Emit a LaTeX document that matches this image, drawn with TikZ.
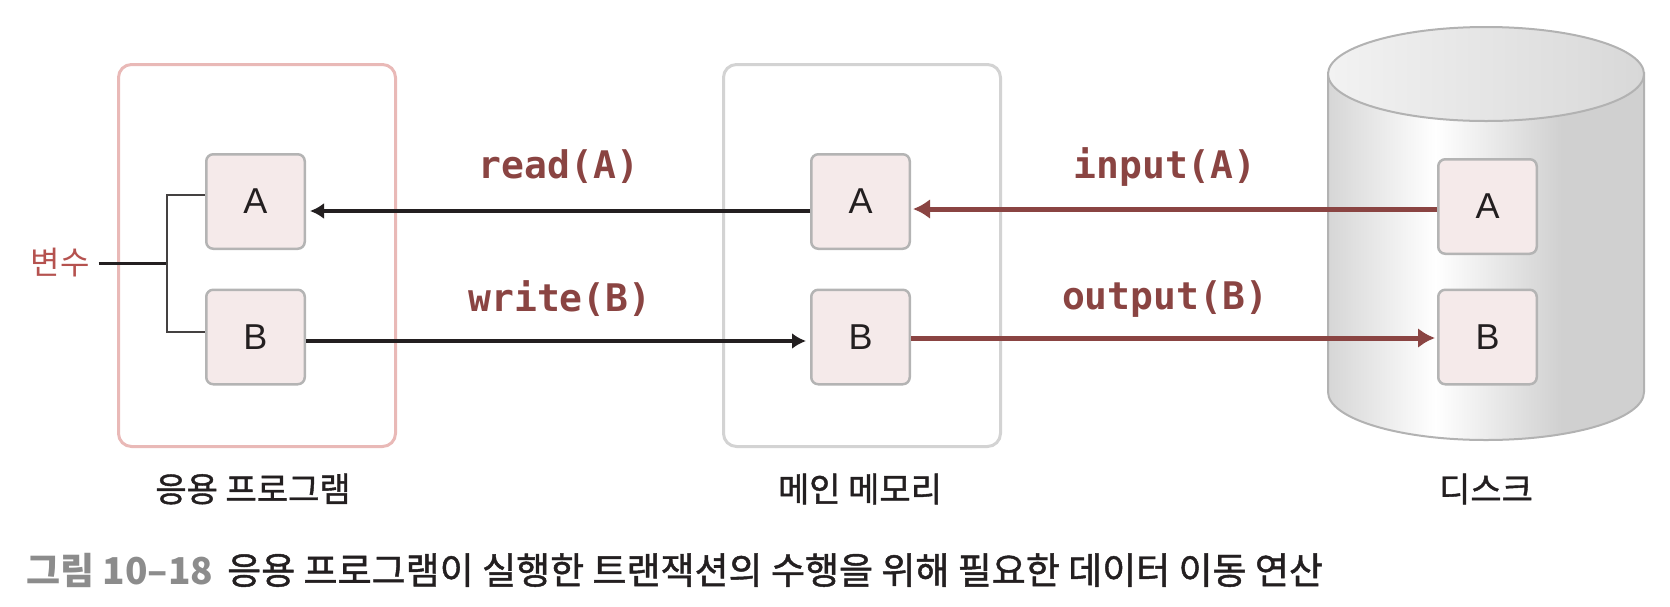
\documentclass[tikz,border=0pt]{standalone}
\usepackage{fontspec}
\setmainfont{Liberation Sans}
\newfontfamily\kr{Noto Sans CJK KR}
\newfontfamily\krm{Noto Sans CJK KR}[FakeBold=1.2]
\newfontfamily\mono{DejaVu Sans Mono}
\usetikzlibrary{arrows.meta}
\definecolor{boxfill}{HTML}{F5EAEA}
\definecolor{cellline}{HTML}{B4B4B4}
\definecolor{pinkline}{HTML}{E9B9B7}
\definecolor{greyline}{HTML}{D3D3D3}
\definecolor{ink}{HTML}{231F20}
\definecolor{rust}{HTML}{8A4442}
\definecolor{varred}{HTML}{B5524F}
\definecolor{capgrey}{HTML}{8C8C8C}
\definecolor{cylL}{HTML}{D6D6D6}
\definecolor{cylR}{HTML}{D0D0D0}
\definecolor{topL}{HTML}{F2F2F2}
\definecolor{topR}{HTML}{D8D8D8}
\definecolor{cylline}{HTML}{B2B2B2}
\pgfdeclarehorizontalshading{cylbody}{100bp}{color(0bp)=(cylL); color(25bp)=(cylL); color(42bp)=(white); color(62bp)=(cylR); color(100bp)=(cylR)}
\pgfdeclarehorizontalshading{cyltop}{100bp}{color(0bp)=(topL); color(25bp)=(topL); color(75bp)=(topR); color(100bp)=(topR)}
\begin{document}
\begin{tikzpicture}[x=1pt,y=1pt,
  cell/.style={draw=cellline, fill=boxfill, line width=2.5pt, rounded corners=7pt,
    minimum width=98.5pt, minimum height=94.5pt, inner sep=0pt,
    font=\fontsize{36}{36}\selectfont, text=ink},
  frame/.style={line width=3pt, rounded corners=13pt, minimum width=277pt, minimum height=382pt, inner sep=0pt},
  lbl/.style={font=\mono\bfseries\fontsize{38}{38}\selectfont, text=rust},
  place/.style={font=\krm\fontsize{34}{34}\selectfont, text=ink},
  blk/.style={draw=ink, line width=4pt, -{Latex[length=14pt,width=16pt]}},
  red/.style={draw=rust, line width=5pt, -{Latex[length=17pt,width=20pt]}},
  brk/.style={draw=ink!85, line width=2pt}
]
\useasboundingbox (0,0) rectangle (1670,-606);
% frames
\node[frame, draw=pinkline] (app) at (257,-255.5) {};
\node[frame, draw=greyline] (mem) at (862,-255.5) {};
% cylinder
\path[shade, shading=cylbody, draw=cylline, line width=2pt]
  (1328,-73) -- (1328,-392) arc[start angle=180,end angle=360,x radius=158pt,y radius=48pt] -- (1644,-73) -- cycle;
\path[shade, shading=cyltop, draw=cylline, line width=2pt]
  (1486,-74) ellipse[x radius=158pt, y radius=47pt];
% cells
\node[cell] (appA) at (255.5,-201.5) {A};
\node[cell] (appB) at (255.5,-337) {B};
\node[cell] (memA) at (860.5,-201.5) {A};
\node[cell] (memB) at (860.5,-337) {B};
\node[cell] (diskA) at (1487.5,-206.5) {A};
\node[cell] (diskB) at (1487.5,-337) {B};
% variable bracket
\node[font=\kr\fontsize{32}{32}\selectfont, text=varred, inner sep=0pt] (var) at (60,-263) {변수};
\coordinate (br) at (167,-263);
\draw[draw=ink, line width=3pt] ([xshift=9pt]var.east) -- (br);
\draw[brk] (br) |- ([yshift=6.5pt]appA.west);
\draw[brk] (br) |- ([yshift=5pt]appB.west);
% arrows
\draw[blk] ([yshift=-9.5pt]memA.west) -- ([yshift=-9.5pt,xshift=4pt]appA.east);
\draw[blk] ([yshift=-4pt]appB.east) -- ([yshift=-4pt,xshift=-4pt]memB.west);
\draw[red] ([yshift=-2.5pt]diskA.west) -- ([yshift=-7.5pt,xshift=2pt]memA.east);
\draw[red] ([yshift=-1pt]memB.east) -- ([yshift=-1pt,xshift=-2pt]diskB.west);
% labels
\node[lbl] (rd) at (559,-167) {read(A)};
\node[lbl] (wr) at (560,-299) {write(B)};
\node[lbl] (in) at (1165,-167) {input(A)};
\node[lbl] (out) at (1165,-299) {output(B)};
\node[place] (appL) at (253,-489) {응용 프로그램};
\node[place] (memL) at (860,-489) {메인 메모리};
\node[place] (diskL) at (1486,-489) {디스크};
% caption
\node[anchor=west, inner sep=0pt, font=\fontsize{37}{37}\selectfont] (cap) at (26,-570)
  {{\kr\bfseries\color{capgrey}그림 10–18}\hspace{14pt}{\krm\color{ink}응용 프로그램이 실행한 트랜잭션의 수행을 위해 필요한 데이터 이동 연산}};
\end{tikzpicture}
\end{document}
